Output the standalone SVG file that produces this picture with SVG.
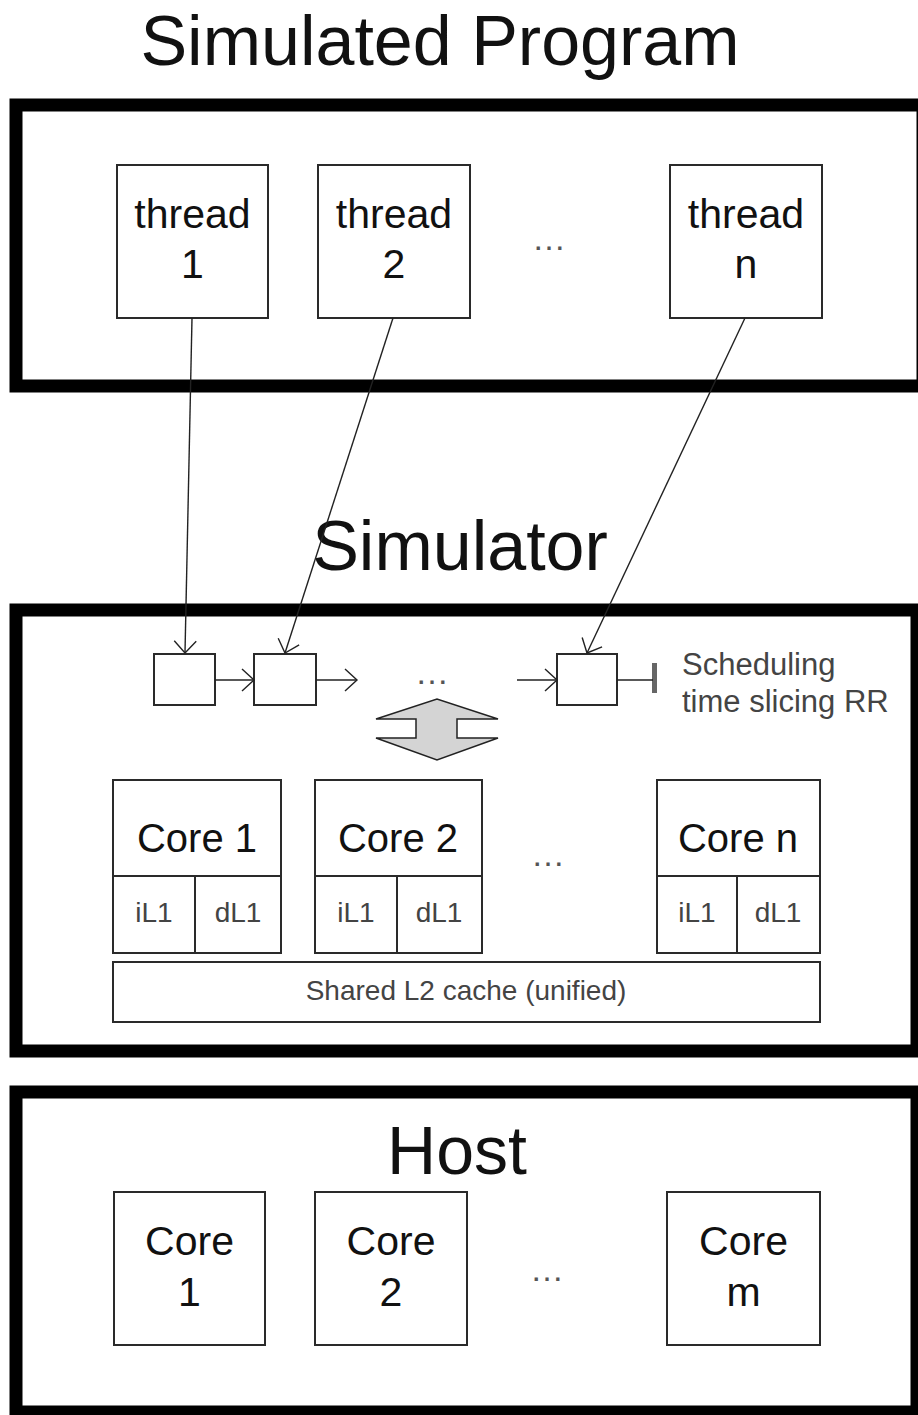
<svg xmlns="http://www.w3.org/2000/svg" width="918" height="1415" viewBox="0 0 918 1415">
<style>
.outer{fill:none;stroke:#000;stroke-width:13}
.box{fill:#fff;stroke:#2a2a2a;stroke-width:2}
.t{font-family:"Liberation Sans",Arial,sans-serif;fill:#111;text-anchor:middle}
.title{font-size:70px}
.lbl{font-size:41px}
.small{font-size:28px;fill:#444}
.dots{font-size:34px;fill:#555}
.conn{fill:none;stroke:#222;stroke-width:1.4}
</style>
<defs>
<marker id="arr" markerUnits="userSpaceOnUse" markerWidth="16" markerHeight="26" refX="14" refY="12" orient="auto">
<path d="M2,1 L14,12 L2,23" fill="none" stroke="#222" stroke-width="1.4"/>
</marker>
</defs>
<rect width="918" height="1415" fill="#fff"/>

<g id="program">
<text class="t title" x="440" y="65">Simulated Program</text>
<rect class="outer" x="16" y="105" width="907" height="281"/>
</g>
<g id="thread1"><rect class="box" x="117" y="165" width="151" height="153"/><text class="t lbl" x="192.5" y="228">thread</text><text class="t lbl" x="192.5" y="278">1</text></g>
<g id="thread2"><rect class="box" x="318" y="165" width="152" height="153"/><text class="t lbl" x="394" y="228">thread</text><text class="t lbl" x="394" y="278">2</text></g>
<text class="t dots" x="549" y="250">…</text>
<g id="threadn"><rect class="box" x="670" y="165" width="152" height="153"/><text class="t lbl" x="746" y="228">thread</text><text class="t lbl" x="746" y="278">n</text></g>

<g id="simulator">
<rect class="outer" x="16" y="610" width="901" height="441"/>
</g>

<g id="q1"><rect class="box" x="154" y="654" width="61" height="51"/></g>
<g id="q2"><rect class="box" x="254" y="654" width="62" height="51"/></g>
<text class="t dots" x="432" y="684">…</text>
<g id="qn"><rect class="box" x="557" y="654" width="60" height="51"/></g>
<rect x="652" y="663" width="5" height="30" fill="#666"/>
<g id="sched">
<text class="t small" style="text-anchor:start;font-size:31px" x="682" y="675">Scheduling</text>
<text class="t small" style="text-anchor:start;font-size:31px" x="682" y="712">time slicing RR</text>
</g>
<g id="exchange"><polygon points="376,719 437,699 498,719 457,719 457,738 498,738 437,760 376,738 416,738 416,719" fill="#d4d4d4" stroke="#222" stroke-width="1.5"/></g>

<g id="core1"><rect class="box" x="113" y="780" width="168" height="173"/><line x1="113" y1="876" x2="281" y2="876" stroke="#2a2a2a" stroke-width="2"/><line x1="195" y1="876" x2="195" y2="953" stroke="#2a2a2a" stroke-width="2"/>
<text class="t" style="font-size:40px" x="197" y="852">Core 1</text><text class="t small" x="154" y="922">iL1</text><text class="t small" x="238" y="922">dL1</text></g>
<g id="core2"><rect class="box" x="315" y="780" width="167" height="173"/><line x1="315" y1="876" x2="482" y2="876" stroke="#2a2a2a" stroke-width="2"/><line x1="397" y1="876" x2="397" y2="953" stroke="#2a2a2a" stroke-width="2"/>
<text class="t" style="font-size:40px" x="398" y="852">Core 2</text><text class="t small" x="356" y="922">iL1</text><text class="t small" x="439" y="922">dL1</text></g>
<text class="t dots" x="548" y="866">…</text>
<g id="coren"><rect class="box" x="657" y="780" width="163" height="173"/><line x1="657" y1="876" x2="820" y2="876" stroke="#2a2a2a" stroke-width="2"/><line x1="737" y1="876" x2="737" y2="953" stroke="#2a2a2a" stroke-width="2"/>
<text class="t" style="font-size:40px" x="738" y="852">Core n</text><text class="t small" x="697" y="922">iL1</text><text class="t small" x="778" y="922">dL1</text></g>
<g id="l2"><rect class="box" x="113" y="962" width="707" height="60"/><text class="t small" x="466" y="1000">Shared L2 cache (unified)</text></g>

<g id="host">
<rect class="outer" x="16" y="1092" width="901" height="320"/>
<text class="t title" x="457" y="1174" style="font-size:68px">Host</text>
</g>
<g id="hcore1"><rect class="box" x="114" y="1192" width="151" height="153"/><text class="t lbl" x="189.5" y="1255">Core</text><text class="t lbl" x="189.5" y="1306">1</text></g>
<g id="hcore2"><rect class="box" x="315" y="1192" width="152" height="153"/><text class="t lbl" x="391" y="1255">Core</text><text class="t lbl" x="391" y="1306">2</text></g>
<text class="t dots" x="547" y="1281">…</text>
<g id="hcorem"><rect class="box" x="667" y="1192" width="153" height="153"/><text class="t lbl" x="743.5" y="1255">Core</text><text class="t lbl" x="743.5" y="1306">m</text></g>

<g id="simtitle"><text class="t title" x="460" y="570">Simulator</text></g>

<g id="connectors">
<line class="conn" x1="192" y1="318" x2="185" y2="653" marker-end="url(#arr)"/>
<line class="conn" x1="393" y1="318" x2="285" y2="653" marker-end="url(#arr)"/>
<line class="conn" x1="745" y1="318" x2="587" y2="653" marker-end="url(#arr)"/>
<line class="conn" x1="215" y1="680" x2="254" y2="680" marker-end="url(#arr)"/>
<line class="conn" x1="316" y1="680" x2="357" y2="680" marker-end="url(#arr)"/>
<line class="conn" x1="517" y1="680" x2="557" y2="680" marker-end="url(#arr)"/>
<line class="conn" x1="617" y1="680" x2="653" y2="680"/>
</g>
</svg>
